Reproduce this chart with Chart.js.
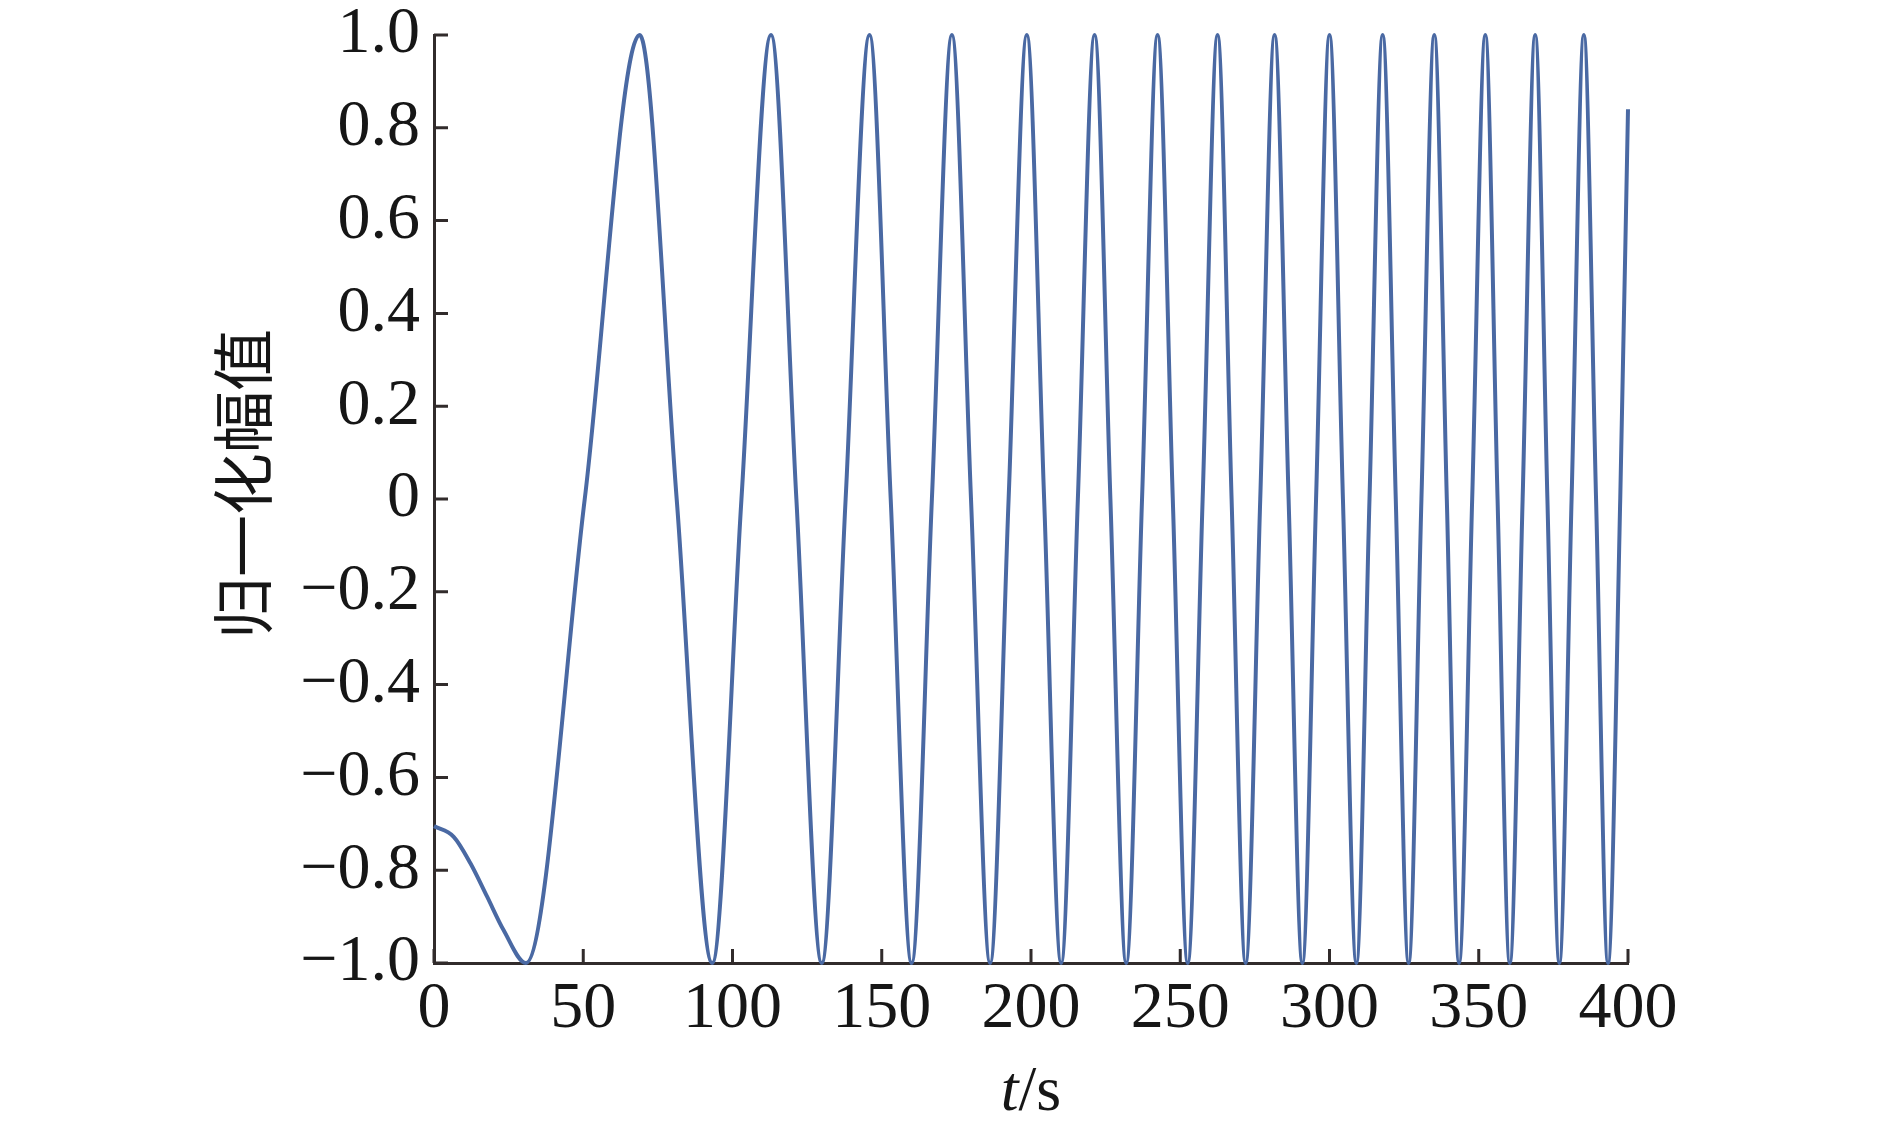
<!DOCTYPE html>
<html>
<head>
<meta charset="utf-8">
<script src="https://cdn.jsdelivr.net/npm/chart.js@4.4.0/dist/chart.umd.min.js"></script>
<style>
html, body { margin: 0; padding: 0; background: #fff; }
</style>
</head>
<body>
<canvas id="myChart" width="1890" height="1130"></canvas>
<script>
// t (s): start, troughs / peaks and the zero crossings between them
const tSec = [0, 6.6, 12.2, 17.8, 23.3, 30.8, 50.5, 68.9, 81.3, 93.2, 103.0, 112.9,
	121.4, 129.9, 137.9, 145.9, 153.0, 160.0, 166.8, 173.5, 179.9, 186.3,
	192.5, 198.6, 204.4, 210.1, 215.7, 221.3, 226.6, 231.9, 237.2, 242.4,
	247.5, 252.5, 257.5, 262.5, 267.2, 271.9, 276.8, 281.6, 286.3, 290.9,
	295.5, 300.0, 304.5, 309.0, 313.4, 317.8, 322.2, 326.5, 330.8, 335.1,
	339.3, 343.4, 347.8, 352.2, 356.3, 360.4, 364.7, 368.9, 373.0, 377.0,
	381.1, 385.2, 389.3, 393.3, 397.4, 400];

// normalised amplitude at each of those times
const amp = [-0.705, -0.728, -0.785, -0.857, -0.929, -1, 0, 1, 0, -1, 0, 1,
	0, -1, 0, 1, 0, -1, 0, 1, 0, -1,
	0, 1, 0, -1, 0, 1, 0, -1, 0, 1,
	0, -1, 0, 1, 0, -1, 0, 1, 0, -1,
	0, 1, 0, -1, 0, 1, 0, -1, 0, 1,
	0, -1, 0, 1, 0, -1, 0, 1, 0, -1,
	0, 1, 0, -1, 0, 0.84];

// tick values and labels
const xTickValues = [0, 50, 100, 150, 200, 250, 300, 350, 400];
const xTickLabels = ['0', '50', '100', '150', '200', '250', '300', '350', '400'];
const yTickValues = [-1, -0.8, -0.6, -0.4, -0.2, 0, 0.2, 0.4, 0.6, 0.8, 1];
const yTickLabels = ['\u22121.0', '\u22120.8', '\u22120.6', '\u22120.4', '\u22120.2', '0', '0.2', '0.4', '0.6', '0.8', '1.0'];

const yTitle = '归一化幅值';
const xTitleVar = 't';
const xTitleUnit = '/s';

const axisColor = '#312b2b';
const textColor = '#161616';
const lineColor = '#4a69a3';
const serif = '"Liberation Serif", "Times New Roman", serif';

// inward tick marks plus the two axis titles
const axisExtras = {
	id: 'axisExtras',
	beforeDatasetsDraw(chart) {
		const ctx = chart.ctx, area = chart.chartArea;
		const xs = chart.scales.x, ys = chart.scales.y;
		ctx.save();
		ctx.strokeStyle = axisColor;
		ctx.lineWidth = 3;
		ctx.beginPath();
		xTickValues.forEach(function(v) {
			const px = xs.getPixelForValue(v);
			ctx.moveTo(px, area.bottom);
			ctx.lineTo(px, area.bottom - 14);
		});
		yTickValues.forEach(function(v) {
			const py = ys.getPixelForValue(v);
			ctx.moveTo(area.left, py);
			ctx.lineTo(area.left + 14, py);
		});
		ctx.stroke();

		// x title: italic t followed by /s
		ctx.fillStyle = textColor;
		ctx.textBaseline = 'alphabetic';
		ctx.textAlign = 'left';
		const itFont = 'italic 64px ' + serif;
		const upFont = '64px ' + serif;
		ctx.font = itFont;
		const w1 = ctx.measureText(xTitleVar).width;
		ctx.font = upFont;
		const w2 = ctx.measureText(xTitleUnit).width;
		const cx = (area.left + area.right) / 2;
		let x0 = cx - (w1 + w2) / 2;
		ctx.font = itFont;
		ctx.fillText(xTitleVar, x0, 1110);
		ctx.font = upFont;
		ctx.fillText(xTitleUnit, x0 + w1, 1110);

		// y title, rotated
		ctx.translate(243, 484);
		ctx.rotate(-Math.PI / 2);
		ctx.textAlign = 'center';
		ctx.textBaseline = 'middle';
		ctx.font = '62px "Noto Sans CJK SC"';
		ctx.fillText(yTitle, 0, 0);
		ctx.restore();
	}
};

const points = tSec.map(function(t, i) { return {x: t, y: amp[i]}; });

const ctx = document.getElementById('myChart').getContext('2d');
const myChart = new Chart(ctx, {
	type: 'line',
	data: {
		datasets: [{
			data: points,
			borderColor: lineColor,
			borderWidth: 4,
			pointRadius: 0,
			fill: false,
			cubicInterpolationMode: 'monotone',
			clip: false
		}]
	},
	options: {
		responsive: false,
		animation: false,
		devicePixelRatio: 1,
		layout: {padding: {left: 0, right: 262, top: 35, bottom: 0}},
		plugins: {legend: {display: false}, tooltip: {enabled: false}},
		scales: {
			x: {
				type: 'linear',
				min: 0,
				max: 400,
				afterBuildTicks: function(scale) {
					scale.ticks = xTickValues.map(function(v) { return {value: v}; });
				},
				afterFit: function(scale) {
					scale.height = 167;
					scale.paddingLeft = 0;
					scale.paddingRight = 0;
				},
				grid: {display: false, drawTicks: false},
				border: {display: true, color: axisColor, width: 3},
				ticks: {
					padding: 14,
					color: textColor,
					font: {family: serif, size: 66, lineHeight: 1},
					maxRotation: 0,
					autoSkip: false,
					callback: function(value, index) { return xTickLabels[index]; }
				}
			},
			y: {
				type: 'linear',
				min: -1,
				max: 1,
				afterBuildTicks: function(scale) {
					scale.ticks = yTickValues.map(function(v) { return {value: v}; });
				},
				afterFit: function(scale) {
					scale.width = 434;
					scale.paddingTop = 0;
					scale.paddingBottom = 0;
				},
				grid: {display: false, drawTicks: false},
				border: {display: true, color: axisColor, width: 3},
				ticks: {
					padding: 14,
					color: textColor,
					font: {family: serif, size: 66, lineHeight: 1},
					autoSkip: false,
					callback: function(value, index) { return yTickLabels[index]; }
				}
			}
		}
	},
	plugins: [axisExtras]
});
</script>
</body>
</html>
